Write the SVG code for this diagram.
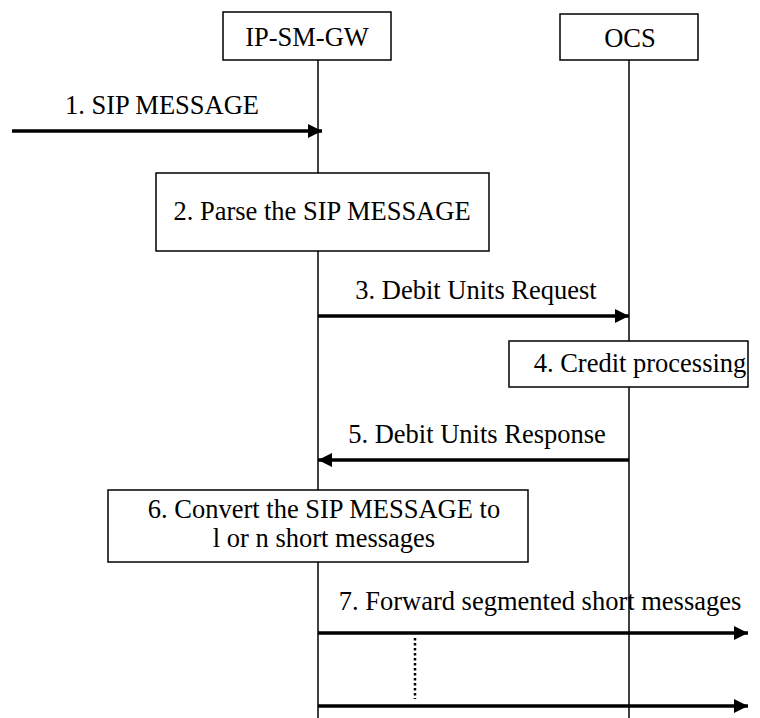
<svg xmlns="http://www.w3.org/2000/svg" width="760" height="718" viewBox="0 0 760 718">
<style>
.box{fill:#fff;stroke:#000;stroke-width:1.5}
.life{stroke:#000;stroke-width:1.5;fill:none}
.msg{stroke:#000;stroke-width:3.5;fill:none}
.t{font-family:"Liberation Serif","Times New Roman",serif;font-size:26.5px;fill:#000;text-anchor:middle}
</style>
<defs>
<marker id="ah" markerUnits="userSpaceOnUse" markerWidth="16" markerHeight="16" refX="14" refY="8" orient="auto">
<path d="M0,1 L14,8 L0,15 Z" fill="#000"/>
</marker>
</defs>
<g id="lifelines">
<line class="life" x1="318" y1="60" x2="318" y2="718"/>
<line class="life" x1="629" y1="60" x2="629" y2="718"/>
</g>
<g id="ipsmgw"><rect class="box" x="223" y="12" width="168" height="48"/><text class="t" x="307" y="46">IP-SM-GW</text></g>
<g id="ocs"><rect class="box" x="560" y="14" width="138" height="46"/><text class="t" x="630" y="47">OCS</text></g>
<g id="connectors">
<line class="msg" x1="12" y1="131" x2="322" y2="131" marker-end="url(#ah)"/>
<line class="msg" x1="318" y1="316" x2="629" y2="316" marker-end="url(#ah)"/>
<line class="msg" x1="629" y1="460" x2="318" y2="460" marker-end="url(#ah)"/>
<line class="msg" x1="318" y1="633" x2="748" y2="633" marker-end="url(#ah)"/>
<line class="msg" x1="318" y1="706" x2="748" y2="706" marker-end="url(#ah)"/>
<line x1="415" y1="638" x2="415" y2="699" stroke="#000" stroke-width="2.5" stroke-dasharray="2.5,2.5"/>
</g>
<g id="labels">
<text class="t" x="162" y="114">1. SIP MESSAGE</text>
<text class="t" x="476" y="299">3. Debit Units Request</text>
<text class="t" x="477" y="443">5. Debit Units Response</text>
<text class="t" x="540" y="610">7. Forward segmented short messages</text>
</g>
<g id="parse"><rect class="box" x="156" y="173" width="333" height="78"/><text class="t" x="322" y="220">2. Parse the SIP MESSAGE</text></g>
<g id="credit"><rect class="box" x="509" y="341" width="239" height="46"/><text class="t" x="640" y="372">4. Credit processing</text></g>
<g id="convert"><rect class="box" x="108" y="490" width="420" height="72"/><text class="t" x="324" y="518">6. Convert the SIP MESSAGE to</text><text class="t" x="324" y="547">l or n short messages</text></g>
</svg>
